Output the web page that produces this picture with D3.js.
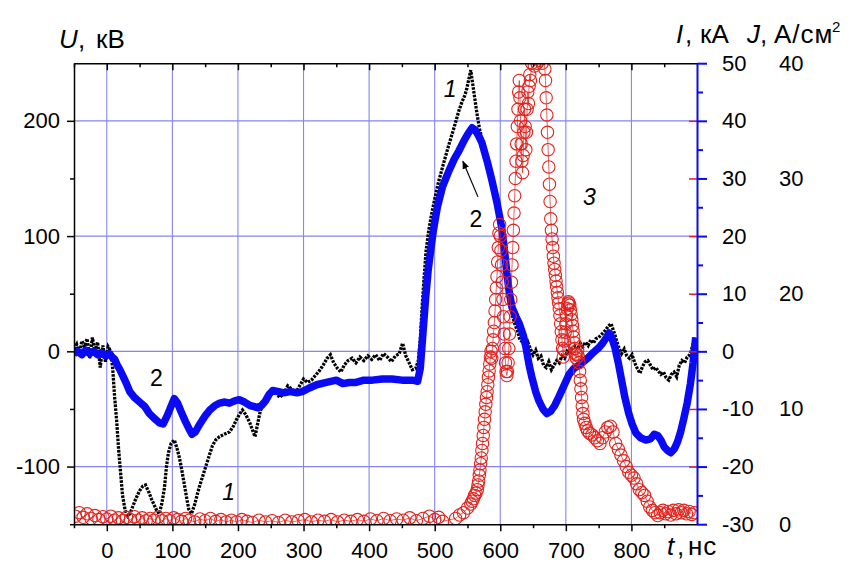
<!DOCTYPE html>
<html><head><meta charset="utf-8">
<script src="https://cdn.jsdelivr.net/npm/d3@7"></script>
<style>
body{margin:0;background:#fff}
svg{display:block}
text{font-family:"Liberation Sans",Arial,sans-serif;fill:#000}
</style>
</head><body>
<svg id="chart" width="852" height="563"></svg>
<script>
// ---------- DATA ----------
// Curve 1: voltage U (kV), black dotted
const curve1T = [-50,-46,-42,-38,-34,-30,-26,-22,-18,-14,-10,-6,-2,2,6,9,12,15,18,21,24,28,32,36,40,45,50,55,59,64,68,72,76,80,84,88,91,94,98,103,107,111,115,119,122,125,129,134,138,142,147,152,157,161,166,172,179,187,193,198,203,207,212,218,222,226,230,234,239,244,249,254,259,264,270,276,282,288,294,300,306,312,318,324,330,336,341,346,352,357,362,368,374,380,386,392,398,404,410,416,422,428,434,440,446,451,456,461,466,471,475,478,481,484,487,491,495,500,505,513,522,530,537,542,546,549,552,555,558,561,564,568,573,578,583,587,592,597,603,607,610,614,618,622,626,630,634,638,642,646,650,654,658,662,666,670,674,678,682,686,690,694,698,702,706,710,714,718,722,726,730,734,738,742,746,750,755,760,765,769,772,775,778,781,785,789,793,797,801,805,809,813,817,821,825,829,833,837,841,845,849,853,857,861,865,869,873,877,881,885,889,893,897];
const curve1U = [2,6,-3,9,4,11,-6,12,0,8,-14,5,-9,4,0,-15,-40,-60,-85,-105,-125,-138,-143,-140,-134,-127,-121,-117,-116,-122,-128,-133,-138,-141,-132,-118,-100,-88,-80,-77,-84,-93,-105,-118,-128,-137,-141,-133,-124,-116,-107,-98,-89,-82,-77,-74,-72,-70,-65,-59,-54,-51,-55,-62,-68,-74,-63,-52,-45,-41,-37,-34,-37,-40,-36,-30,-33,-36,-30,-24,-27,-25,-21,-17,-12,-6,-3,-10,-15,-18,-12,-8,-6,-10,-5,-8,-4,-7,-3,-8,-2,-5,-9,-4,-2,7,-4,-10,-16,-15,-8,10,40,65,88,105,118,132,145,162,180,195,209,217,222,228,236,244,232,220,208,194,182,172,163,154,138,120,99,78,60,42,32,24,18,10,8,3,8,2,-3,1,-6,-4,-12,-14,-9,-16,-12,-8,-10,-4,-6,0,-2,3,5,2,7,4,8,5,10,7,11,12,15,18,22,24,19,14,8,3,-2,2,-4,-6,-3,-10,-15,-19,-13,-9,-8,-12,-16,-14,-17,-20,-18,-23,-25,-20,-18,-22,-12,-8,-10,-5,-3,4,12];

// Curve 2: voltage U (kV), blue thick
const curve2T = [-50,-44,-38,-32,-26,-20,-14,-8,-2,4,8,12,16,20,25,30,35,42,50,58,65,72,80,86,92,97,103,108,113,120,126,130,135,142,150,157,165,172,180,187,195,202,210,218,225,230,236,242,248,253,262,270,280,290,298,308,320,335,350,360,370,380,392,405,420,435,450,466,474,478,482,486,490,494,498,504,512,522,530,537,545,551,557,562,567,572,580,587,595,602,606,610,614,618,624,629,635,639,644,648,654,659,665,671,677,683,689,697,705,712,720,727,735,742,750,756,762,766,770,775,780,785,790,796,801,807,814,822,829,835,840,845,850,855,860,865,870,875,880,885,890,894,898];
const curve2U = [-2,0,-3,1,-2,0,-3,-1,-4,-2,-5,-7,-12,-16,-22,-28,-35,-40,-44,-48,-54,-58,-62,-63,-56,-49,-41,-45,-52,-61,-68,-72,-70,-63,-56,-51,-47,-45,-44,-45,-43,-42,-44,-47,-48,-49,-47,-43,-37,-34,-35,-36,-35,-36,-35,-32,-29,-27,-25,-28,-27,-27,-25,-25,-24,-24,-25,-25,-26,-15,15,45,70,88,105,125,143,157,167,174,183,189,194,192,187,181,165,149,129,108,90,68,50,38,30,24,14,4,-12,-22,-35,-43,-50,-54,-52,-47,-40,-30,-20,-15,-12,-9,-5,-1,3,7,12,16,12,3,-10,-25,-40,-54,-63,-71,-75,-77,-76,-72,-73,-77,-83,-86,-88,-85,-79,-70,-58,-45,-28,-10,12];

// Curve 3: current I (kA), red open circles
const curve3T = [-48,-42,-36,-30,-24,-18,-12,-6,0,6,12,18,24,30,36,42,48,54,60,66,72,78,84,90,96,102,108,114,120,126,134,142,150,158,166,174,182,190,198,206,214,222,232,242,252,262,272,282,292,302,312,322,332,342,352,362,372,382,392,402,412,422,432,442,452,462,472,482,492,500,506,512,532,538,544,550,555,557,559,561,563,565,566,567,568,569,570,571,572,573,574,575,576,577,578,579,580,581,582,583,584,585,586,587,588,589,590,591,592,593,594,595,596,597,598,599,600,601,602,603,604,605,606,607,608,609,610,611,612,613,614,615,616,617,618,619,620,621,622,623,624,625,626,627,628,629,630,631,632,633,634,635,636,637,638,639,640,641,642,643,644,645,646,648,650,652,654,656,658,660,662,664,666,668,669,670,671,672,673,674,675,676,677,678,679,680,681,682,683,684,685,686,687,688,689,690,691,692,693,694,695,696,697,698,699,700,701,702,703,704,705,706,707,708,709,710,711,712,713,714,715,716,717,718,719,720,721,722,723,724,725,726,727,729,731,733,736,740,744,748,752,756,760,764,768,772,776,780,784,788,792,796,800,804,808,812,816,820,824,828,832,836,840,844,848,852,856,860,864,868,872,876,880,884,888,892,896];
const curve3I = [-28.6,-28.0,-28.8,-28.2,-29.0,-28.5,-29.2,-28.7,-29.1,-28.6,-29.3,-28.9,-29.4,-28.8,-29.2,-28.7,-29.3,-28.9,-29.4,-29.0,-29.3,-28.8,-29.4,-29.0,-29.4,-28.9,-29.2,-29.5,-29.0,-29.3,-29.6,-29.1,-29.4,-29.0,-29.5,-29.2,-29.6,-29.3,-29.6,-29.2,-29.5,-29.7,-29.3,-29.6,-29.4,-29.7,-29.3,-29.6,-29.4,-29.2,-29.6,-29.3,-29.5,-29.2,-29.6,-29.3,-29.5,-29.2,-29.5,-29.1,-29.4,-29.0,-29.4,-29.1,-29.3,-28.9,-29.4,-29.0,-28.6,-29.2,-28.8,-29.5,
  -29.0,-28.4,-28.0,-27.2,-26.5,-26,-25.6,-25,-24.6,-24,-23.2,-22.5,-21.5,-20.6,-19.5,-18.5,-17.2,-16,-14.6,-13.2,-11.8,-10.5,-9.2,-8,-7,-5.8,-4.5,-3.4,-2.2,-1,0,-1.2,0.5,2,3.5,5,7,9,11,13,15.5,18,20.5,22,20,17.5,15,12,9,6,3,0.5,-2,-3.5,-4.2,-3.5,-2,0.5,3,6,9,12,15,18,21,24,27,30,33,36,39,42,45,47,44,40,36,33,31,34,38,42,39,35,38,42,45,43,46,48,47,50,51,49.5,51.5,50,52,50.5,52,50,51,49,47,44,41,38,35,32,29,26,23,21,19.5,18,16.5,15.3,14.2,13.2,12.2,11.2,10.2,9.3,8.4,7.4,6.2,4.8,3.4,2,0.5,-1,0.2,1.8,3.3,4.8,6.2,7.4,8.2,8.6,8.4,8,7.2,6.4,5.5,4.5,3.5,2.5,1.5,0.5,-0.5,-1.2,-0.5,0.2,-0.8,-2,-3.5,-5,-6.5,-8,-9.5,-10.8,-11.8,-12.5,-13.2,-13.8,-14.2,-14.5,-15,-15.5,-16,-15,-14,-13.2,-13,-14,-16,-17,-18,-19,-20,-21,-21.5,-22,-23,-24,-24.5,-25,-26,-27,-27.6,-28,-28.5,-28,-27.6,-28.2,-27.8,-28.4,-27.6,-28.2,-27.5,-28,-27.6,-28.2,-27.8,-28.3,-28,-29.3];

// Tick values and labels
const tTicks = [0,100,200,300,400,500,600,700,800];
const tMinor = [-50,50,150,250,350,450,550,650,750,850];
const uTicks = [-100,0,100,200];
const uMinor = [-150,-50,50,150];
const iTicks = [-30,-20,-10,0,10,20,30,40,50];
const iMinor = [-25,-15,-5,5,15,25,35,45];
const jTicks = [0,10,20,30,40];
const jRed = [5,10,15,20,25,30,35];
const notes = [
  {txt:"1", t:514, u:221, it:true},
  {txt:"2", t:553, u:108, it:false},
  {txt:"2", t:66,  u:-30, it:false},
  {txt:"1", t:176, u:-129, it:true},
  {txt:"3", t:726, u:127, it:true}
];
const arrowFrom = {t:566, u:134}, arrowTo = {t:543, u:165};

// ---------- LAYOUT ----------
const L = 74, R = 697, T = 63.2, B = 524.2;
const svg = d3.select("#chart");
svg.append("rect").attr("width",852).attr("height",563).attr("fill","#fff");

const x  = d3.scaleLinear().domain([-50, 900]).range([L, R]);
const yU = d3.scaleLinear().domain([-150, 250]).range([B, T]);
const yI = d3.scaleLinear().domain([-30, 50]).range([B, T]);
const yJ = d3.scaleLinear().domain([0, 40]).range([B, T]);

const gridCol = "#8585f2";
svg.append("g").selectAll("line").data(tTicks).join("line")
  .attr("x1", d => x(d)).attr("x2", d => x(d)).attr("y1", T).attr("y2", B)
  .attr("stroke", gridCol).attr("stroke-width", 1.1);
svg.append("g").selectAll("line").data(uTicks).join("line")
  .attr("y1", d => yU(d)).attr("y2", d => yU(d)).attr("x1", L).attr("x2", R)
  .attr("stroke", gridCol).attr("stroke-width", 1.1);

svg.append("clipPath").attr("id","clip").append("rect")
  .attr("x", L).attr("y", T).attr("width", R - L).attr("height", B - T);
const plot = svg.append("g").attr("clip-path","url(#clip)");

// curve 1
const c1 = curve1T.map((t,i) => [t, curve1U[i]]);
plot.append("path").datum(c1)
  .attr("d", d3.line().x(d => x(d[0])).y(d => yU(d[1])))
  .attr("fill","none").attr("stroke","#000").attr("stroke-width",3.3)
  .attr("stroke-dasharray","2.6,1.2");

// curve 2
const c2 = curve2T.map((t,i) => [t, curve2U[i]]);
plot.append("path").datum(c2)
  .attr("d", d3.line().x(d => x(d[0])).y(d => yU(d[1])))
  .attr("fill","none").attr("stroke","#0a0af5").attr("stroke-width",7.5)
  .attr("stroke-linejoin","round");

// curve 3
const c3 = curve3T.map((t,i) => [t, curve3I[i]]);
plot.append("path").datum(c3)
  .attr("d", d3.line().x(d => x(d[0])).y(d => yI(d[1])))
  .attr("fill","none").attr("stroke","#e02020").attr("stroke-width",0.7);
plot.append("g").selectAll("circle").data(c3).join("circle")
  .attr("cx", d => x(d[0])).attr("cy", d => yI(d[1])).attr("r", 6.2)
  .attr("fill","none").attr("stroke","#e3221c").attr("stroke-width",1.1);

// ---------- AXES ----------
const fs = 22;
function styleAxis(g, col, w){
  g.selectAll("line").attr("stroke", col).attr("stroke-width", w);
  g.selectAll("path").attr("stroke", col).attr("stroke-width", w);
  g.selectAll("text").attr("font-size", fs).attr("fill","#000")
    .style("font-family",'"Liberation Sans", Arial, sans-serif');
}
const fmt = d => String(d);

let g = svg.append("g").attr("transform",`translate(0,${B})`)
  .call(d3.axisBottom(x).tickValues(tTicks).tickSize(7).tickSizeOuter(0).tickPadding(11).tickFormat(fmt));
styleAxis(g,"#000",1.5);
g = svg.append("g").attr("transform",`translate(0,${B})`)
  .call(d3.axisBottom(x).tickValues(tMinor).tickSize(4).tickSizeOuter(0).tickFormat(""));
styleAxis(g,"#000",1.5); g.select(".domain").remove();
g = svg.append("g").attr("transform",`translate(0,${T})`)
  .call(d3.axisBottom(x).tickValues(tTicks).tickSize(7).tickSizeOuter(0).tickFormat(""));
styleAxis(g,"#000",1.5);
g = svg.append("g").attr("transform",`translate(0,${T})`)
  .call(d3.axisBottom(x).tickValues(tMinor).tickSize(4).tickSizeOuter(0).tickFormat(""));
styleAxis(g,"#000",1.5); g.select(".domain").remove();
g = svg.append("g").attr("transform",`translate(${L},0)`)
  .call(d3.axisLeft(yU).tickValues(uTicks).tickSize(7).tickSizeOuter(0).tickPadding(7).tickFormat(fmt));
styleAxis(g,"#000",1.5);
g = svg.append("g").attr("transform",`translate(${L},0)`)
  .call(d3.axisLeft(yU).tickValues(uMinor).tickSize(4).tickSizeOuter(0).tickFormat(""));
styleAxis(g,"#000",1.5); g.select(".domain").remove();
g = svg.append("g").attr("transform",`translate(${R},0)`)
  .call(d3.axisLeft(yJ).tickValues(jRed).tickSize(8).tickSizeOuter(0).tickFormat(""));
styleAxis(g,"#e02020",1.5); g.select(".domain").remove();
g = svg.append("g").attr("transform",`translate(${R},0)`)
  .call(d3.axisRight(yI).tickValues(iTicks).tickSize(10).tickSizeOuter(0).tickPadding(15).tickFormat(fmt));
styleAxis(g,"#0a0af5",2);
g = svg.append("g").attr("transform",`translate(${R},0)`)
  .call(d3.axisRight(yI).tickValues(iMinor).tickSize(6).tickSizeOuter(0).tickFormat(""));
styleAxis(g,"#0a0af5",2); g.select(".domain").remove();
g = svg.append("g").attr("transform",`translate(${R},0)`)
  .call(d3.axisRight(yJ).tickValues(jTicks).tickSize(0).tickSizeOuter(0).tickPadding(82).tickFormat(fmt));
styleAxis(g,"#000",0); g.select(".domain").remove();

// ---------- TITLES ----------
function title(parts, y){
  const t = svg.append("text").attr("y", y).attr("font-size", 26);
  parts.forEach(p => {
    const s = t.append("tspan").text(p.s);
    if (p.x !== undefined) s.attr("x", p.x);
    if (p.it) s.attr("font-style","italic");
    if (p.ls) s.attr("letter-spacing", p.ls);
    if (p.sup) s.attr("font-size", 15).attr("dy", -11);
  });
}
title([{s:"U", it:true, x:59}, {s:",", x:78}, {s:"кВ", x:96}], 48);
title([{s:"I", it:true, x:676}, {s:",", x:685}, {s:"кА", x:700}, {s:"J", it:true, x:747},
       {s:",", x:760}, {s:"А/см", x:774, ls:1}, {s:"2", sup:true, x:832}], 43);
title([{s:"t", it:true, x:667}, {s:",", x:677}, {s:"нс", x:688, ls:1}], 555);

// ---------- ANNOTATIONS ----------
svg.append("g").selectAll("text").data(notes).join("text")
  .attr("x", d => x(d.t)).attr("y", d => yU(d.u))
  .attr("font-size", 23).attr("font-style", d => d.it ? "italic" : "normal")
  .text(d => d.txt);

svg.append("defs").append("marker").attr("id","ah").attr("viewBox","0 0 10 10")
  .attr("refX",9).attr("refY",5).attr("markerWidth",7).attr("markerHeight",7)
  .attr("orient","auto").append("path").attr("d","M0,1 L10,5 L0,9 Z").attr("fill","#000");
svg.append("line")
  .attr("x1", x(arrowFrom.t)).attr("y1", yU(arrowFrom.u))
  .attr("x2", x(arrowTo.t)).attr("y2", yU(arrowTo.u))
  .attr("stroke","#000").attr("stroke-width",1.2).attr("marker-end","url(#ah)");
</script>
</body></html>
